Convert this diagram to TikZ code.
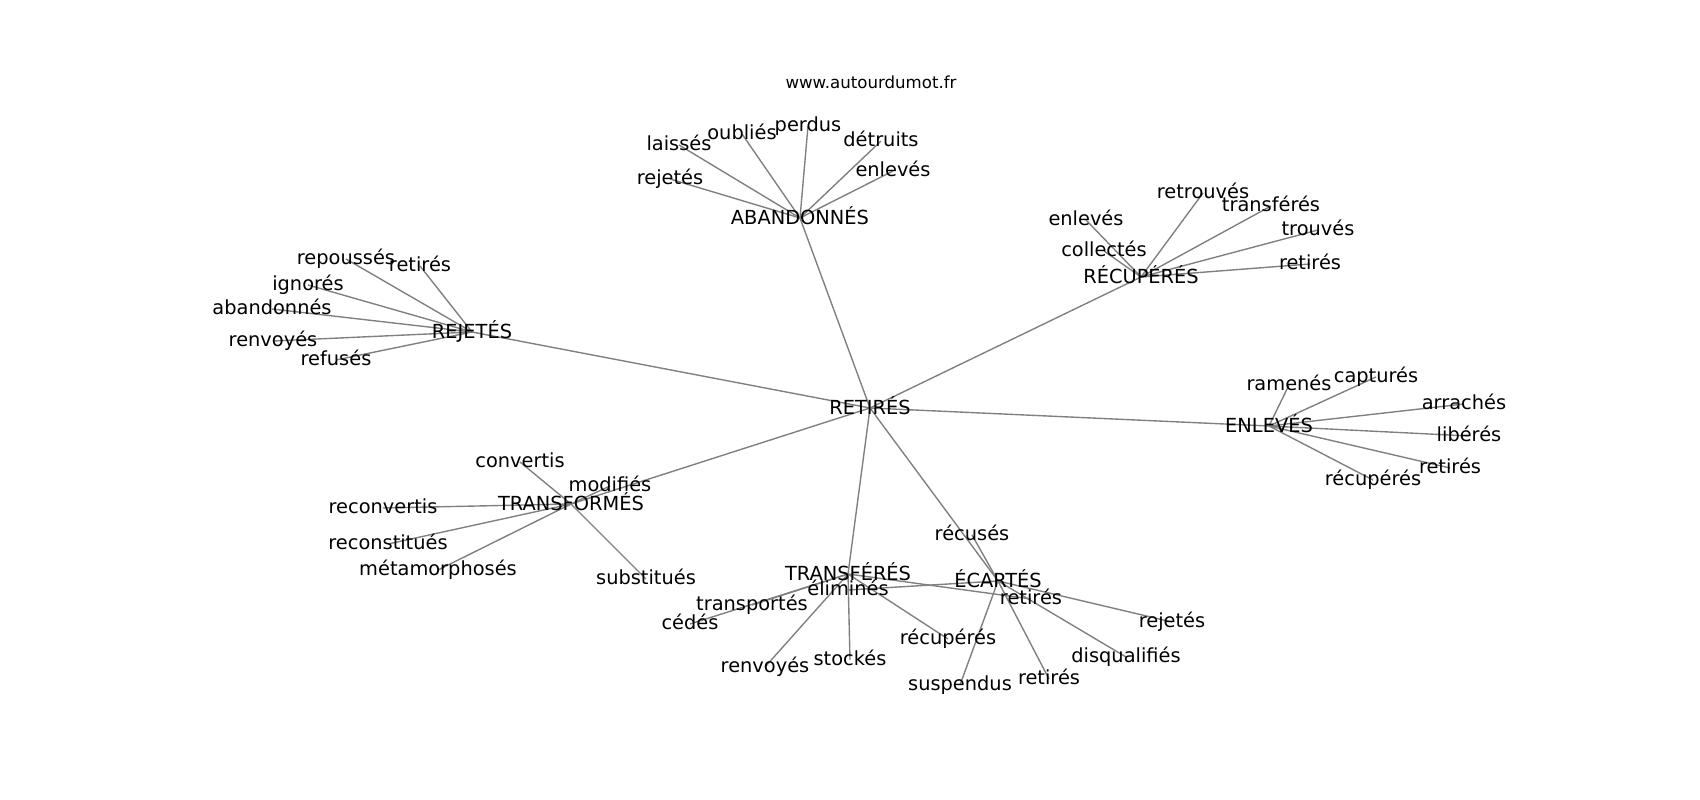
\documentclass[tikz,border=0pt]{standalone}
\usepackage{fontspec}
\setmainfont{DejaVu Sans}
\usetikzlibrary{backgrounds}
\tikzset{
  lbl/.style={inner sep=0pt, outer sep=0pt, font=\fontsize{14}{17}\selectfont, text=black},
  ttl/.style={inner sep=0pt, outer sep=0pt, font=\fontsize{12}{14}\selectfont, text=black},
  edge/.style={draw=gray, line width=1pt},
}
\newcommand{\mylp}{\vphantom{lp}}
\begin{document}
\begin{tikzpicture}[x=0.01in,y=-0.01in]
\useasboundingbox (0,0) rectangle (1700,800);
\node[ttl] (title) at (871,84) {\mylp www.autourdumot.fr};
\node[lbl] (r) at (870,408) {\mylp RETIRÉS};
% ABANDONNES
\node[lbl] (a) at (800,218) {\mylp ABANDONNÉS};
\node[lbl] (a1) at (679,145) {\mylp laissés};
\node[lbl] (a2) at (742,134) {\mylp oubliés};
\node[lbl] (a3) at (808,126) {\mylp perdus};
\node[lbl] (a4) at (881,141) {\mylp détruits};
\node[lbl] (a5) at (893,171) {\mylp enlevés};
\node[lbl] (a6) at (670,179) {\mylp rejetés};
% REJETES
\node[lbl] (b) at (472,332) {\mylp REJETÉS};
\node[lbl] (b1) at (346,259) {\mylp repoussés};
\node[lbl] (b2) at (420,266) {\mylp retirés};
\node[lbl] (b3) at (308,285) {\mylp ignorés};
\node[lbl] (b4) at (272,309) {\mylp abandonnés};
\node[lbl] (b5) at (273,341) {\mylp renvoyés};
\node[lbl] (b6) at (336,360) {\mylp refusés};
% RECUPERES
\node[lbl] (c) at (1141,277) {\mylp RÉCUPÉRÉS};
\node[lbl] (c1) at (1086,220) {\mylp enlevés};
\node[lbl] (c2) at (1104,251) {\mylp collectés};
\node[lbl] (c3) at (1203,193) {\mylp retrouvés};
\node[lbl] (c4) at (1271,206) {\mylp transférés};
\node[lbl] (c5) at (1318,230) {\mylp trouvés};
\node[lbl] (c6) at (1310,264) {\mylp retirés};
% ENLEVES
\node[lbl] (d) at (1269,426) {\mylp ENLEVÉS};
\node[lbl] (d1) at (1289,385) {\mylp ramenés};
\node[lbl] (d2) at (1376,377) {\mylp capturés};
\node[lbl] (d3) at (1464,404) {\mylp arrachés};
\node[lbl] (d4) at (1469,436) {\mylp libérés};
\node[lbl] (d5) at (1450,468) {\mylp retirés};
\node[lbl] (d6) at (1373,480) {\mylp récupérés};
% TRANSFORMES
\node[lbl] (e) at (571,504) {\mylp TRANSFORMÉS};
\node[lbl] (e1) at (520,462) {\mylp convertis};
\node[lbl] (e2) at (610,486) {\mylp modifiés};
\node[lbl] (e3) at (383,508) {\mylp reconvertis};
\node[lbl] (e4) at (388,544) {\mylp reconstitués};
\node[lbl] (e5) at (438,570) {\mylp métamorphosés};
\node[lbl] (e6) at (646,579) {\mylp substitués};
% TRANSFERES
\node[lbl] (f) at (848,574) {\mylp TRANSFÉRÉS};
\node[lbl] (f1) at (752,605) {\mylp transportés};
\node[lbl] (f2) at (690,624) {\mylp cédés};
\node[lbl] (f3) at (765,667) {\mylp renvoyés};
\node[lbl] (f4) at (850,660) {\mylp stockés};
\node[lbl] (f5) at (948,639) {\mylp récupérés};
\node[lbl] (f6) at (1031,599) {\mylp retirés};
% ECARTES
\node[lbl] (g) at (998,581) {\mylp ÉCARTÉS};
\node[lbl] (g1) at (972,535) {\mylp récusés};
\node[lbl] (g2) at (848,590) {\mylp éliminés};
\node[lbl] (g3) at (960,685) {\mylp suspendus};
\node[lbl] (g4) at (1049,679) {\mylp retirés};
\node[lbl] (g5) at (1126,657) {\mylp disqualifiés};
\node[lbl] (g6) at (1172,622) {\mylp rejetés};
\begin{scope}[on background layer]
\fill[white] (0,0) rectangle (1700,800);
\foreach \s/\t in {r/a,r/b,r/c,r/d,r/e,r/f,r/g,
  a/a1,a/a2,a/a3,a/a4,a/a5,a/a6,
  b/b1,b/b2,b/b3,b/b4,b/b5,b/b6,
  c/c1,c/c2,c/c3,c/c4,c/c5,c/c6,
  d/d1,d/d2,d/d3,d/d4,d/d5,d/d6,
  e/e1,e/e2,e/e3,e/e4,e/e5,e/e6,
  f/f1,f/f2,f/f3,f/f4,f/f5,f/f6,
  g/g1,g/g2,g/g3,g/g4,g/g5,g/g6}
  \draw[edge] (\s.center) -- (\t.center);
\end{scope}
\end{tikzpicture}
\end{document}
